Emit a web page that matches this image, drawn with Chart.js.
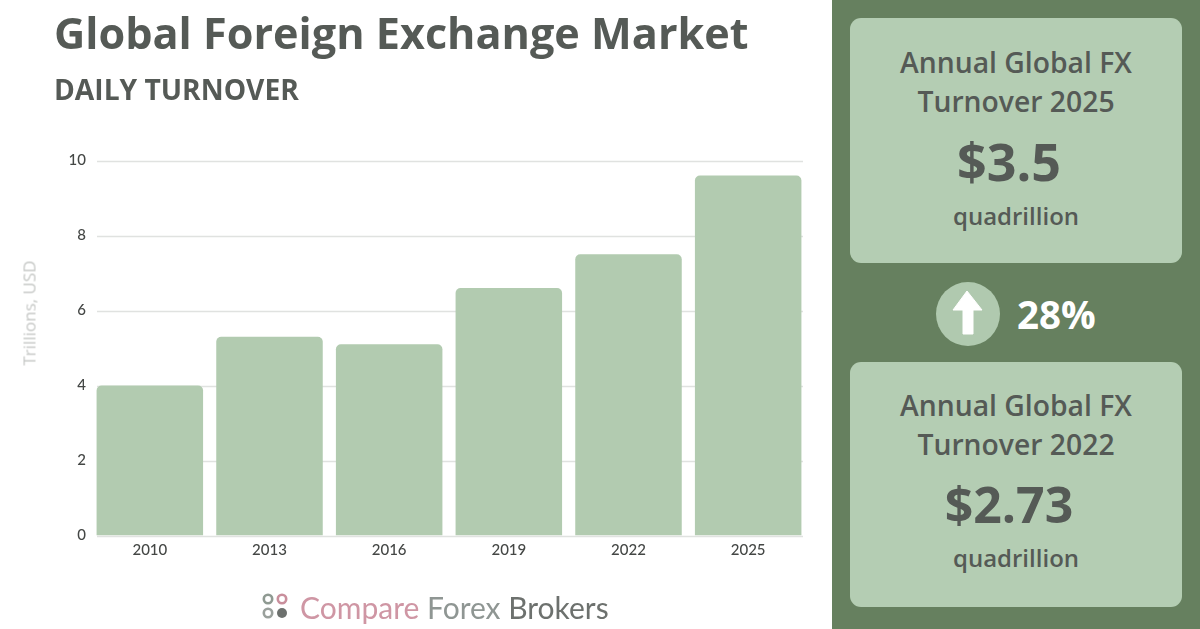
<!DOCTYPE html>
<html>
<head>
<meta charset="utf-8">
<script src="https://cdn.jsdelivr.net/npm/chart.js@4"></script>
<style>
html,body{margin:0;padding:0;background:#fff;width:1200px;height:629px;overflow:hidden;font-family:"Open Sans",sans-serif;}
.t{position:absolute;white-space:nowrap;line-height:1;transform:translateY(-50%);color:#555a56;}
.c{transform:translate(-50%,-50%);text-align:center;}
#chart{position:absolute;left:0;top:0;}
#panel{position:absolute;left:832px;top:0;width:368px;height:629px;background:#66805f;}
.card{position:absolute;left:850px;width:332px;height:245px;background:#b4cdb3;border-radius:11px;}
#circle{position:absolute;left:936px;top:282px;width:64px;height:64px;border-radius:50%;background:#b0c9af;}
</style>
</head>
<body>
<canvas id="chart" width="832" height="629"></canvas>
<div class="t" style="left:54px;top:33px;font-size:43.2px;font-weight:700;color:#555a56">Global Foreign Exchange Market</div>
<div class="t" style="left:54px;top:89px;font-size:28.2px;font-weight:700;color:#555a56">DAILY TURNOVER</div>
<div class="t c" style="left:29px;top:313px;font-size:17px;color:#c6c8c6;transform:translate(-50%,-50%) rotate(-90deg)">Trillions, USD</div>

<div id="panel"></div>
<div class="card" style="top:18px"></div>
<div class="card" style="top:362px"></div>
<div class="t c" style="left:1016px;top:62px;font-size:28.3px;font-weight:600">Annual Global FX</div>
<div class="t c" style="left:1016px;top:101px;font-size:28.3px;font-weight:600">Turnover 2025</div>
<div class="t c" style="left:1009px;top:161px;font-size:52px;font-weight:700">$3.5</div>
<div class="t c" style="left:1016px;top:216px;font-size:24px;font-weight:600">quadrillion</div>
<div id="circle"></div>
<svg style="position:absolute;left:936px;top:282px" width="64" height="64" viewBox="0 0 64 64"><path d="M31 9 L46 28 L37 28 L37 52 L27 52 L27 28 L17 28 Z" fill="#fff" stroke="#fff" stroke-width="1" stroke-linejoin="round"/></svg>
<div class="t" style="left:1017px;top:314px;font-size:38.5px;font-weight:700;color:#fff">28%</div>
<div class="t c" style="left:1016px;top:405px;font-size:28.3px;font-weight:600">Annual Global FX</div>
<div class="t c" style="left:1016px;top:444px;font-size:28.3px;font-weight:600">Turnover 2022</div>
<div class="t c" style="left:1009px;top:504px;font-size:50px;font-weight:700">$2.73</div>
<div class="t c" style="left:1016px;top:558px;font-size:24px;font-weight:600">quadrillion</div>

<svg style="position:absolute;left:260px;top:590px" width="32" height="32">
<circle cx="8" cy="9" r="4.2" fill="none" stroke="#8f9a92" stroke-width="2.6"/>
<circle cx="22" cy="9" r="4.2" fill="none" stroke="#c98f9c" stroke-width="2.6"/>
<circle cx="8" cy="23" r="4.2" fill="none" stroke="#9aa09c" stroke-width="2.6"/>
<circle cx="22" cy="23" r="5" fill="#6d716e"/>
</svg>
<div class="t" style="left:300px;top:607px;font-size:30px;font-family:Lato,sans-serif"><span style="color:#cf96a4">Compare </span><span style="color:#8f9693">Forex </span><span style="color:#6d716e">Brokers</span></div>

<script>
const categories = ["2010","2013","2016","2019","2022","2025"];
const turnover = [4.0,5.3,5.1,6.6,7.5,9.6];
const yMin = 0, yMax = 10, yStep = 2;

const insetGrid = {
  id:'insetGrid',
  beforeDatasetsDraw(chart){
    const y = chart.scales.y, c = chart.ctx;
    c.save();
    c.strokeStyle = '#e0e2e0';
    c.lineWidth = 1.5;
    y.ticks.forEach(t=>{
      const py = Math.round(y.getPixelForValue(t.value))+0.5;
      c.beginPath();
      c.moveTo(97,py);
      c.lineTo(803,py);
      c.stroke();
    });
    c.restore();
  }
};

new Chart(document.getElementById('chart'),{
  type:'bar',
  plugins:[insetGrid],
  data:{labels:categories,datasets:[{
    data:turnover,
    backgroundColor:'#b2cbb0',
    borderRadius:{topLeft:5,topRight:5,bottomLeft:0,bottomRight:0},
    borderSkipped:'bottom',
    categoryPercentage:0.89,
    barPercentage:1
  }]},
  options:{
    responsive:false,
    animation:false,
    layout:{padding:{top:160.5,right:24,left:0,bottom:0}},
    plugins:{legend:{display:false},tooltip:{enabled:false},title:{display:false}},
    scales:{
      x:{
        grid:{display:false,drawTicks:false},
        border:{display:false},
        ticks:{color:'#444745',font:{family:'Lato',size:15,weight:'500'},padding:6,maxRotation:0},
        afterFit(s){s.height=93.5;}
      },
      y:{
        min:yMin,max:yMax,
        grid:{display:false,drawTicks:false},
        border:{display:false},
        ticks:{stepSize:yStep,color:'#444745',font:{family:'Lato',size:15,weight:'500'},padding:4},
        afterFit(s){s.width=90;}
      }
    }
  }
});
</script>
</body>
</html>
